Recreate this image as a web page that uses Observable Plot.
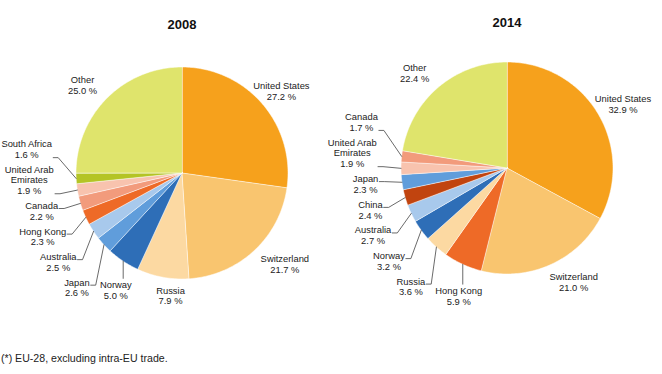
<!DOCTYPE html>
<html>
<head>
<meta charset="utf-8">
<script src="https://cdn.jsdelivr.net/npm/d3@7"></script>
<script src="https://cdn.jsdelivr.net/npm/@observablehq/plot@0.6"></script>
<style>
  body { margin: 0; background: #fff; }
  #wrap { position: relative; width: 662px; height: 374px; overflow: hidden; font-family: "Liberation Sans", Arial, sans-serif; }
  .pie { position: absolute; left: 0; top: 0; }
  #note { position: absolute; left: 1px; top: 352px; font-size: 10.6px; color: #222; white-space: nowrap; }
</style>
</head>
<body>
<div id="wrap">
  <div id="pie2008" class="pie"></div>
  <div id="pie2014" class="pie"></div>
  <div id="note">(*) EU-28, excluding intra-EU trade.</div>
</div>
<script>
// ---- data ----
const years = ["2008", "2014"];
const countries2008 = ["United States", "Switzerland", "Russia", "Norway", "Japan", "Australia", "Hong Kong", "Canada", "United Arab Emirates", "South Africa", "Other"];
const shares2008 = [27.2, 21.7, 7.9, 5.0, 2.6, 2.5, 2.3, 2.2, 1.9, 1.6, 25.0];
const countries2014 = ["United States", "Switzerland", "Hong Kong", "Russia", "Norway", "Australia", "China", "Japan", "United Arab Emirates", "Canada", "Other"];
const shares2014 = [32.9, 21.0, 5.9, 3.6, 3.2, 2.7, 2.4, 2.3, 1.9, 1.7, 22.4];

// ---- styles ----
const paletteNames = ["United States", "Switzerland", "Russia", "Norway", "Japan", "Australia", "Hong Kong", "China", "Canada", "United Arab Emirates", "South Africa", "Other"];
const paletteColors = ["#F6A11C", "#F9C56F", "#FCD9A2", "#2E6EB7", "#609DDB", "#A8C9EC", "#EE6A27", "#C1440F", "#F29B7C", "#F8C3AE", "#B4C425", "#DFE46C"];
const FONT = "Liberation Sans, Arial, sans-serif";
const LABEL_SIZE = 9.4, LINE_H = 10.7;

// ---- layout ----
const W = 662, H = 340, R = 106;
const frames = {
  "2008": {cx: 181.5, cy: 172.5, titleY: 24},
  "2014": {cx: 506.5, cy: 167.5, titleY: 22}
};
const LEADER_BELOW = 7;          // slices smaller than this get a leader line
const GAP_PLAIN = 8, GAP_LEADER = 24, SHEAR = 12, PAD_X = 10, PAD_Y = 4, STEP = 0.25;

const ctx = document.createElement("canvas").getContext("2d");
ctx.font = `${LABEL_SIZE}px "Liberation Sans"`;
const measure = s => ctx.measureText(s).width;
const wrap = name => {
  const w = name.split(" ");
  return name.length > 14 ? [w.slice(0, 2).join(" "), w.slice(2).join(" ")] : [name];
};

function pieChart(year, names, values) {
  const fr = frames[year];
  const arcs = d3.pie().sort(null).value(d => d)(values);

  // slice polygons in unit coordinates (radius 1, y up)
  const slices = [];
  arcs.forEach((a, i) => {
    const n = Math.max(2, Math.ceil((a.endAngle - a.startAngle) / (Math.PI / 180)));
    slices.push({name: names[i], x: 0, y: 0});
    for (let k = 0; k <= n; k++) {
      const t = a.startAngle + (a.endAngle - a.startAngle) * k / n;
      slices.push({name: names[i], x: Math.sin(t), y: Math.cos(t)});
    }
  });

  // labels: pixel offsets from centre (y down), placed from the slice angles
  const items = arcs.map((a, i) => {
    const lines = [...wrap(names[i]), `${values[i].toFixed(1)} %`];
    const theta = (a.startAngle + a.endAngle) / 2;
    const leader = values[i] < LEADER_BELOW;
    const w = d3.max(lines, measure), h = lines.length * LINE_H;
    const s = Math.sin(theta), c = Math.cos(theta);
    const d = R + (leader ? GAP_LEADER : GAP_PLAIN);
    const shear = leader ? 0 : -SHEAR * c;
    return {name: names[i], lines, theta, leader, w, h,
            x: d * s + w / 2 * s + shear, y: -d * c - h / 2 * c};
  });
  // resolve overlaps: side labels slide vertically, top/bottom labels horizontally
  const move = (it, k) => {
    if (Math.abs(Math.sin(it.theta)) >= 0.6) it.y += k * Math.sign(Math.sin(it.theta));
    else it.x += k * Math.sign(Math.cos(it.theta));
  };
  for (let iter = 0; iter < 5000; iter++) {
    let moved = false;
    for (let i = 0; i < items.length - 1; i++) {
      const A = items[i], B = items[i + 1];
      if (Math.abs(A.x - B.x) < (A.w + B.w) / 2 + PAD_X && Math.abs(A.y - B.y) < (A.h + B.h) / 2 + PAD_Y) {
        move(A, -STEP); move(B, STEP); moved = true;
      }
    }
    if (!moved) break;
  }

  const labels = [], leaders = [];
  items.forEach(it => {
    const {x, y} = it;
    labels.push({x: x / R, y: -y / R, text: it.lines.join("\n")});
    if (!it.leader) return;
    const px = R * Math.sin(it.theta), py = -R * Math.cos(it.theta);
    const left = x - it.w / 2, right = x + it.w / 2, top = y - it.h / 2, bottom = y + it.h / 2;
    let pts;
    if (px >= left && px <= right) {
      pts = [[px, py], [px, py < top ? top - 1 : bottom + 1]];
    } else {
      const centres = it.lines.map((_, k) => top + LINE_H * (k + 0.5));
      const yA = d3.least(centres, c => Math.abs(c - py)) + 3;
      const side = px > right ? right : left;
      const dir = px > right ? 1 : -1;
      pts = [[px, py], [side + dir * 6, yA], [side + dir * 1, yA]];
    }
    pts.forEach(([u, v]) => leaders.push({name: it.name, x: u / R, y: -v / R}));
  });

  return Plot.plot({
    width: W, height: H, margin: 0,
    x: {domain: [-fr.cx / R, (W - fr.cx) / R], axis: null},
    y: {domain: [-(H - fr.cy) / R, fr.cy / R], axis: null},
    color: {domain: paletteNames, range: paletteColors},
    style: {background: "transparent", overflow: "visible", fontFamily: FONT},
    marks: [
      Plot.line(slices, {x: "x", y: "y", z: "name", fill: "name", stroke: "white", strokeWidth: 0.5, curve: "linear-closed"}),
      Plot.line(leaders, {x: "x", y: "y", z: "name", stroke: "#444", strokeWidth: 0.8}),
      Plot.text(labels, {x: "x", y: "y", text: "text", fontSize: LABEL_SIZE, lineHeight: LINE_H / LABEL_SIZE, fill: "#222", lineAnchor: "middle"}),
      Plot.text([year], {x: () => 0, frameAnchor: "top", dy: fr.titleY, lineAnchor: "middle", fontWeight: "bold", fontSize: 13, fill: "#111"})
    ]
  });
}

document.getElementById("pie2008").appendChild(pieChart(years[0], countries2008, shares2008));
document.getElementById("pie2014").appendChild(pieChart(years[1], countries2014, shares2014));
</script>
</body>
</html>
